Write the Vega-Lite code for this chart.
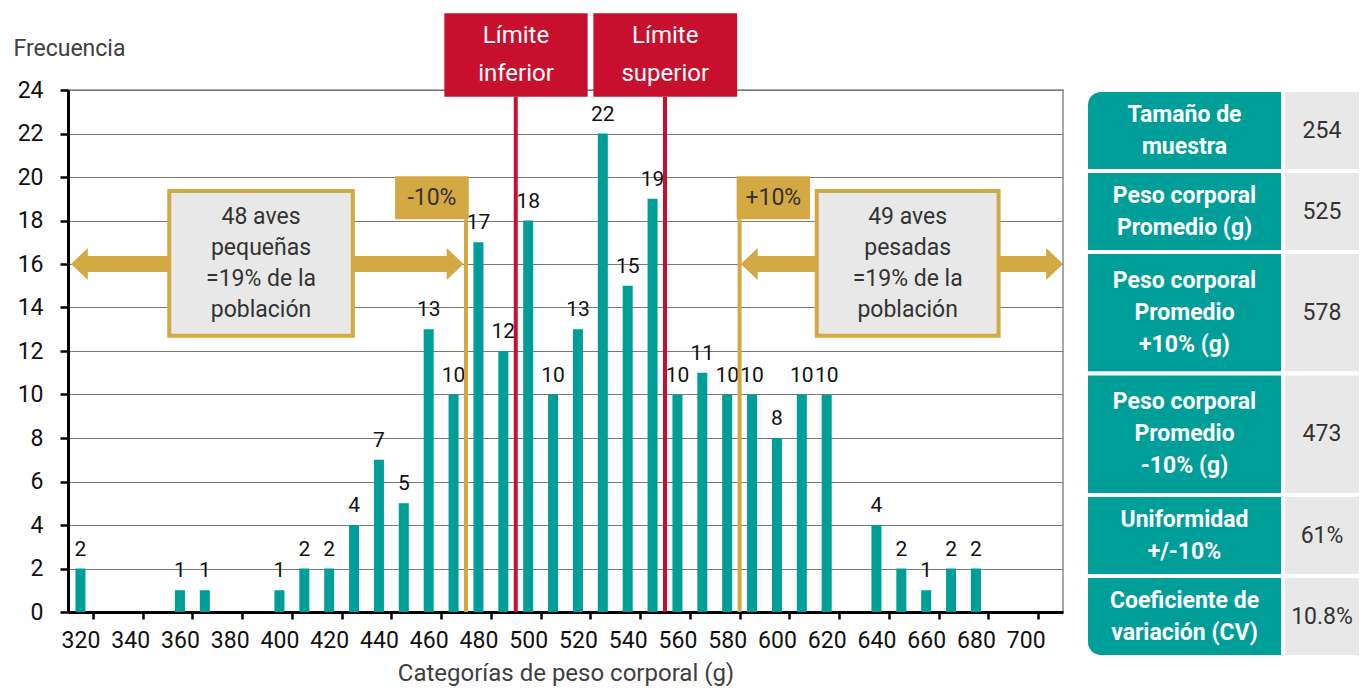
{
  "$schema": "https://vega.github.io/schema/vega-lite/v6.json",
  "autosize": {"type": "pad"},
  "padding": {"left": 12, "top": 12, "right": 0, "bottom": 0},
  "background": "white",
  "config": {"font": "Roboto", "view": {"stroke": null}},
  "datasets": {
    "barras": [
      {"peso": 320, "frecuencia": 2}, {"peso": 360, "frecuencia": 1}, {"peso": 370, "frecuencia": 1},
      {"peso": 400, "frecuencia": 1}, {"peso": 410, "frecuencia": 2}, {"peso": 420, "frecuencia": 2},
      {"peso": 430, "frecuencia": 4}, {"peso": 440, "frecuencia": 7}, {"peso": 450, "frecuencia": 5},
      {"peso": 460, "frecuencia": 13}, {"peso": 470, "frecuencia": 10}, {"peso": 480, "frecuencia": 17},
      {"peso": 490, "frecuencia": 12}, {"peso": 500, "frecuencia": 18}, {"peso": 510, "frecuencia": 10},
      {"peso": 520, "frecuencia": 13}, {"peso": 530, "frecuencia": 22}, {"peso": 540, "frecuencia": 15},
      {"peso": 550, "frecuencia": 19}, {"peso": 560, "frecuencia": 10}, {"peso": 570, "frecuencia": 11},
      {"peso": 580, "frecuencia": 10}, {"peso": 590, "frecuencia": 10}, {"peso": 600, "frecuencia": 8},
      {"peso": 610, "frecuencia": 10}, {"peso": 620, "frecuencia": 10}, {"peso": 640, "frecuencia": 4},
      {"peso": 650, "frecuencia": 2}, {"peso": 660, "frecuencia": 1}, {"peso": 670, "frecuencia": 2},
      {"peso": 680, "frecuencia": 2}
    ],
    "cuerpos": [
      {"desde": 322, "hasta": 468, "nivel": 16},
      {"desde": 591, "hasta": 709, "nivel": 16}
    ],
    "puntas": [
      {"punta": 316.2, "nivel": 16, "sentido": "izquierda"},
      {"punta": 474, "nivel": 16, "sentido": "derecha"},
      {"punta": 585.5, "nivel": 16, "sentido": "izquierda"},
      {"punta": 715, "nivel": 16, "sentido": "derecha"}
    ],
    "cajas": [
      {"x1": 355.7, "x2": 429.5, "y1": 19.36, "y2": 12.7, "cx": 392.6, "cy": 16.03, "texto": ["48 aves", "pequeñas", "=19% de la", "población"]},
      {"x1": 616.0, "x2": 689.1, "y1": 19.36, "y2": 12.7, "cx": 652.55, "cy": 16.03, "texto": ["49 aves", "pesadas", "=19% de la", "población"]}
    ],
    "lineas_oro": [
      {"pos": 475, "tope": 18.06},
      {"pos": 585, "tope": 18.06}
    ],
    "etiquetas_oro": [
      {"x1": 446.5, "x2": 476.1, "y1": 20.04, "y2": 18.06, "cx": 461.3, "cy": 19.05, "texto": "-10%"},
      {"x1": 583.8, "x2": 613.3, "y1": 20.04, "y2": 18.06, "cx": 598.55, "cy": 19.05, "texto": "+10%"}
    ],
    "lineas_rojas": [
      {"pos": 495, "tope": 23.69},
      {"pos": 555, "tope": 23.69}
    ],
    "etiquetas_rojas": [
      {"x1": 466.3, "x2": 523.9, "y1": 27.53, "y2": 23.69, "cx": 495.1, "cy": 25.61, "texto": ["Límite", "inferior"]},
      {"x1": 526.2, "x2": 584.0, "y1": 27.53, "y2": 23.69, "cx": 555.1, "cy": 25.61, "texto": ["Límite", "superior"]}
    ],
    "tabla": [
      {"orden": 1, "etiqueta": ["Tamaño de", "muestra"], "valor": "254", "lineas": 2},
      {"orden": 2, "etiqueta": ["Peso corporal", "Promedio (g)"], "valor": "525", "lineas": 2},
      {"orden": 3, "etiqueta": ["Peso corporal", "Promedio", "+10% (g)"], "valor": "578", "lineas": 3},
      {"orden": 4, "etiqueta": ["Peso corporal", "Promedio", "-10% (g)"], "valor": "473", "lineas": 3},
      {"orden": 5, "etiqueta": ["Uniformidad", "+/-10%"], "valor": "61%", "lineas": 2},
      {"orden": 6, "etiqueta": ["Coeficiente de", "variación (CV)"], "valor": "10.8%", "lineas": 2}
    ]
  },
  "bounds": "flush",
  "spacing": 23,
  "hconcat": [
    {
      "width": 995,
      "height": 522,
      "view": {"stroke": "#8c8c8c", "strokeWidth": 1.5},
      "layer": [
        {
          "data": {"name": "barras"},
          "mark": {"type": "bar", "width": 10, "fill": "#009E99"},
          "encoding": {
            "x": {
              "field": "peso", "type": "quantitative",
              "scale": {"domain": [315, 715], "nice": false, "zero": false, "padding": 0},
              "axis": {
                "title": "Categorías de peso corporal (g)",
                "values": [320,330,340,350,360,370,380,390,400,410,420,430,440,450,460,470,480,490,500,510,520,530,540,550,560,570,580,590,600,610,620,630,640,650,660,670,680,690,700,710],
                "labelExpr": "datum.value % 20 === 0 ? datum.label : ''",
                "tickOffset": 12.44, "labelOffset": -12.44,
                "grid": false,
                "domainColor": "#000", "domainWidth": 3,
                "tickColor": "#000", "tickWidth": 2.5, "tickSize": 7,
                "labelFontSize": 23, "labelColor": "#111", "labelPadding": 10,
                "labelOverlap": false, "labelFlush": false,
                "titleFontSize": 24, "titleFontWeight": "normal", "titleColor": "#404040", "titlePadding": 9
              }
            },
            "y": {
              "field": "frecuencia", "type": "quantitative",
              "scale": {"domain": [0, 24], "nice": false, "padding": 0},
              "axis": {
                "title": "Frecuencia",
                "values": [0,2,4,6,8,10,12,14,16,18,20,22,24],
                "grid": true, "gridColor": "#7a7a7a", "gridWidth": 1.2,
                "domainColor": "#000", "domainWidth": 3,
                "tickColor": "#000", "tickWidth": 2.5, "tickSize": 8,
                "labelFontSize": 23, "labelColor": "#111", "labelPadding": 17,
                "titleAngle": 0, "titleAlign": "left", "titleBaseline": "middle",
                "titleX": -55, "titleY": -42,
                "titleFontSize": 23, "titleFontWeight": "normal", "titleColor": "#404040"
              }
            }
          }
        },
        {
          "data": {"name": "barras"},
          "mark": {"type": "text", "fontSize": 21, "color": "#111", "baseline": "alphabetic", "dy": -13},
          "encoding": {
            "x": {"field": "peso", "type": "quantitative"},
            "y": {"field": "frecuencia", "type": "quantitative"},
            "text": {"field": "frecuencia", "type": "quantitative"}
          }
        },
        {
          "data": {"name": "cuerpos"},
          "mark": {"type": "rule", "strokeWidth": 16, "color": "#D4A843", "strokeCap": "butt"},
          "encoding": {
            "x": {"field": "desde", "type": "quantitative"},
            "x2": {"field": "hasta"},
            "y": {"field": "nivel", "type": "quantitative"}
          }
        },
        {
          "data": {"name": "puntas"},
          "mark": {"type": "point", "filled": true, "size": 1024, "opacity": 1, "color": "#D4A843"},
          "encoding": {
            "x": {"field": "punta", "type": "quantitative"},
            "y": {"field": "nivel", "type": "quantitative"},
            "shape": {
              "field": "sentido", "type": "nominal", "legend": null,
              "scale": {"domain": ["izquierda", "derecha"], "range": ["M 0 0 L 1.05 -1 L 1.05 1 Z", "M 0 0 L -1.05 -1 L -1.05 1 Z"]}
            }
          }
        },
        {
          "data": {"name": "cajas"},
          "mark": {"type": "rect", "fill": "#E8E8E8", "stroke": "#D4A843", "strokeWidth": 4},
          "encoding": {
            "x": {"field": "x1", "type": "quantitative"},
            "x2": {"field": "x2"},
            "y": {"field": "y1", "type": "quantitative"},
            "y2": {"field": "y2"}
          }
        },
        {
          "data": {"name": "cajas"},
          "mark": {"type": "text", "fontSize": 23, "lineHeight": 31, "color": "#333", "baseline": "middle", "align": "center", "dy": -46.5},
          "encoding": {
            "x": {"field": "cx", "type": "quantitative"},
            "y": {"field": "cy", "type": "quantitative"},
            "text": {"field": "texto", "type": "nominal"}
          }
        },
        {
          "data": {"name": "lineas_oro"},
          "mark": {"type": "rule", "strokeWidth": 4, "color": "#D4A843"},
          "encoding": {
            "x": {"field": "pos", "type": "quantitative"},
            "y": {"field": "tope", "type": "quantitative"},
            "y2": {"datum": 0}
          }
        },
        {
          "data": {"name": "etiquetas_oro"},
          "mark": {"type": "rect", "fill": "#D4A843"},
          "encoding": {
            "x": {"field": "x1", "type": "quantitative"},
            "x2": {"field": "x2"},
            "y": {"field": "y1", "type": "quantitative"},
            "y2": {"field": "y2"}
          }
        },
        {
          "data": {"name": "etiquetas_oro"},
          "mark": {"type": "text", "fontSize": 23, "color": "#333", "baseline": "middle", "align": "center"},
          "encoding": {
            "x": {"field": "cx", "type": "quantitative"},
            "y": {"field": "cy", "type": "quantitative"},
            "text": {"field": "texto", "type": "nominal"}
          }
        },
        {
          "data": {"name": "lineas_rojas"},
          "mark": {"type": "rule", "strokeWidth": 4, "color": "#C8102E"},
          "encoding": {
            "x": {"field": "pos", "type": "quantitative"},
            "y": {"field": "tope", "type": "quantitative"},
            "y2": {"datum": 0}
          }
        },
        {
          "data": {"name": "etiquetas_rojas"},
          "mark": {"type": "rect", "fill": "#C8102E"},
          "encoding": {
            "x": {"field": "x1", "type": "quantitative"},
            "x2": {"field": "x2"},
            "y": {"field": "y1", "type": "quantitative"},
            "y2": {"field": "y2"}
          }
        },
        {
          "data": {"name": "etiquetas_rojas"},
          "mark": {"type": "text", "fontSize": 24, "lineHeight": 38, "color": "white", "baseline": "middle", "align": "center", "dy": -19},
          "encoding": {
            "x": {"field": "cx", "type": "quantitative"},
            "y": {"field": "cy", "type": "quantitative"},
            "text": {"field": "texto", "type": "nominal"}
          }
        }
      ]
    },
    {
      "bounds": "flush",
      "spacing": 0,
      "hconcat": [
        {
          "width": 197,
          "height": 567,
          "data": {"name": "tabla"},
          "transform": [
            {"window": [{"op": "sum", "field": "lineas", "as": "fin"}], "sort": [{"field": "orden"}], "frame": [null, 0]},
            {"calculate": "datum.fin - datum.lineas", "as": "inicio"},
            {"calculate": "datum.fin - datum.lineas / 2", "as": "centro"}
          ],
          "layer": [
            {
              "transform": [{"filter": "datum.orden > 1 && datum.orden < 6"}],
              "mark": {"type": "rect", "fill": "#009E99", "stroke": "white", "strokeWidth": 4},
              "encoding": {
                "y": {"field": "inicio", "type": "quantitative", "scale": {"domain": [0, 14], "reverse": true, "nice": false, "zero": false}, "axis": null},
                "y2": {"field": "fin"}
              }
            },
            {
              "transform": [{"filter": "datum.orden == 1"}],
              "mark": {"type": "rect", "fill": "#009E99", "stroke": "white", "strokeWidth": 4, "cornerRadiusTopLeft": 15},
              "encoding": {
                "y": {"field": "inicio", "type": "quantitative"},
                "y2": {"field": "fin"}
              }
            },
            {
              "transform": [{"filter": "datum.orden == 6"}],
              "mark": {"type": "rect", "fill": "#009E99", "stroke": "white", "strokeWidth": 4, "cornerRadiusBottomLeft": 15},
              "encoding": {
                "y": {"field": "inicio", "type": "quantitative"},
                "y2": {"field": "fin"}
              }
            },
            {
              "transform": [{"filter": "datum.lineas == 2"}],
              "mark": {"type": "text", "color": "white", "fontSize": 23, "fontWeight": "bold", "lineHeight": 32, "baseline": "middle", "align": "center", "dy": -16},
              "encoding": {
                "y": {"field": "centro", "type": "quantitative"},
                "text": {"field": "etiqueta", "type": "nominal"}
              }
            },
            {
              "transform": [{"filter": "datum.lineas == 3"}],
              "mark": {"type": "text", "color": "white", "fontSize": 23, "fontWeight": "bold", "lineHeight": 32, "baseline": "middle", "align": "center", "dy": -32},
              "encoding": {
                "y": {"field": "centro", "type": "quantitative"},
                "text": {"field": "etiqueta", "type": "nominal"}
              }
            }
          ]
        },
        {
          "width": 78,
          "height": 567,
          "data": {"name": "tabla"},
          "transform": [
            {"window": [{"op": "sum", "field": "lineas", "as": "fin"}], "sort": [{"field": "orden"}], "frame": [null, 0]},
            {"calculate": "datum.fin - datum.lineas", "as": "inicio"},
            {"calculate": "datum.fin - datum.lineas / 2", "as": "centro"}
          ],
          "layer": [
            {
              "mark": {"type": "rect", "fill": "#E8E8E8", "stroke": "white", "strokeWidth": 4},
              "encoding": {
                "y": {"field": "inicio", "type": "quantitative", "scale": {"domain": [0, 14], "reverse": true, "nice": false, "zero": false}, "axis": null},
                "y2": {"field": "fin"}
              }
            },
            {
              "mark": {"type": "text", "color": "#333", "fontSize": 23, "baseline": "middle", "align": "center"},
              "encoding": {
                "y": {"field": "centro", "type": "quantitative"},
                "text": {"field": "valor", "type": "nominal"}
              }
            }
          ]
        }
      ]
    }
  ]
}
